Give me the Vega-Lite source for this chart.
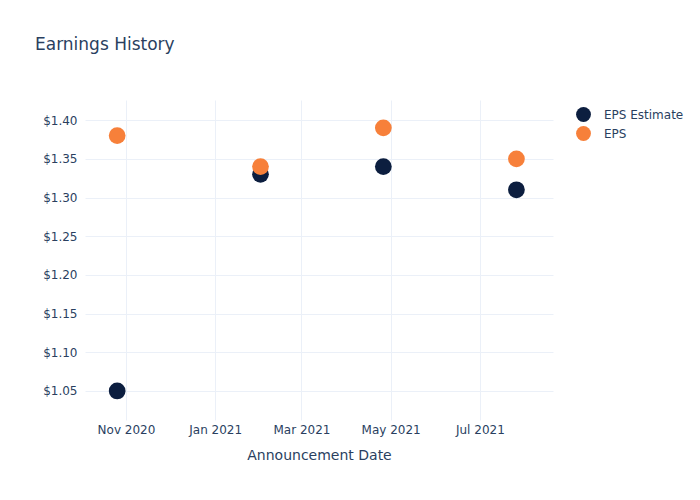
{
  "$schema": "https://vega.github.io/schema/vega-lite/v6.json",
  "width": 468,
  "height": 320,
  "autosize": {"type": "none"},
  "padding": {"left": 85, "top": 100, "right": 147, "bottom": 80},
  "background": "white",
  "config": {
    "font": "DejaVu Sans",
    "view": {"stroke": null},
    "axis": {"labelColor": "#2a3f5f", "titleColor": "#2a3f5f", "gridColor": "#EBF0F8", "gridWidth": 1, "domain": false, "ticks": false, "labelFontSize": 12, "labelFont": "DejaVu Sans", "titleFont": "DejaVu Sans", "titleFontWeight": "normal"},
    "legend": {"labelColor": "#2a3f5f", "labelFontSize": 12, "labelFont": "DejaVu Sans"}
  },
  "title": {"text": "Earnings History", "anchor": "start", "frame": "group", "dx": -50, "offset": 46, "fontSize": 17, "fontWeight": "normal", "color": "#2a3f5f", "font": "DejaVu Sans"},
  "data": {
    "values": [
      {"date": "2020-10-26", "series": "EPS Estimate", "value": 1.05},
      {"date": "2021-02-01", "series": "EPS Estimate", "value": 1.33},
      {"date": "2021-04-26", "series": "EPS Estimate", "value": 1.34},
      {"date": "2021-07-26", "series": "EPS Estimate", "value": 1.31},
      {"date": "2020-10-26", "series": "EPS", "value": 1.38},
      {"date": "2021-02-01", "series": "EPS", "value": 1.34},
      {"date": "2021-04-26", "series": "EPS", "value": 1.39},
      {"date": "2021-07-26", "series": "EPS", "value": 1.35}
    ]
  },
  "mark": {"type": "point", "filled": true, "opacity": 1, "size": 280, "shape": "circle"},
  "encoding": {
    "x": {
      "field": "date", "type": "temporal",
      "scale": {"type": "utc", "domain": [{"year": 2020, "month": 10, "date": 4, "utc": true}, {"year": 2021, "month": 8, "date": 20, "utc": true}], "nice": false},
      "axis": {"labelExpr": "utcFormat(datum.value, '%b %Y')", "tickCount": {"interval": "month", "step": 2}, "labelPadding": 4, "title": "Announcement Date", "titleFontSize": 14, "titlePadding": 13, "labelFlush": false}
    },
    "y": {
      "field": "value", "type": "quantitative",
      "scale": {"domain": [1.0125, 1.426], "nice": false, "zero": false},
      "axis": {"format": "$.2f", "values": [1.05, 1.1, 1.15, 1.2, 1.25, 1.3, 1.35, 1.4], "labelPadding": 8, "title": null}
    },
    "color": {
      "field": "series", "type": "nominal",
      "scale": {"domain": ["EPS Estimate", "EPS"], "range": ["#0C1E3F", "#F7803A"]},
      "legend": {"title": null, "orient": "none", "legendX": 490, "legendY": 6, "symbolSize": 220, "symbolType": "circle", "symbolOpacity": 1, "rowPadding": 3, "labelOffset": 12}
    }
  }
}
